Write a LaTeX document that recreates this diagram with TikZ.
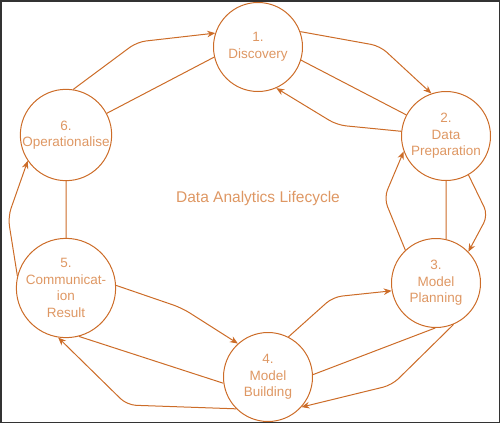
\documentclass[tikz,border=0pt]{standalone}
\usepackage{fontspec}
\setmainfont{Liberation Sans}
\usepackage{xcolor}
\usetikzlibrary{arrows.meta}
\definecolor{lcline}{HTML}{CC6C28}
\definecolor{lctext}{HTML}{DE9763}

\begin{document}
\begin{tikzpicture}[x=1pt,y=-1pt,
  stage/.style = {draw=lcline,circle,line width=1pt,minimum size=89pt,
        inner sep=0pt,align=center,text=lctext,
        font=\fontsize{13.5}{16.5}\selectfont},
  link/.style = {draw=lcline,line width=1pt}]
 \useasboundingbox (0,0) rectangle (500,423);
 \draw[black!80,line width=1.5pt] (0.75,0.75) rectangle (499.25,422.25);

 \node[stage] (c1) at(258,47)  {1.\\ Discovery};
 \node[stage] (c2) at(446,136) {2.\\ Data\\ Preparation};
 \node[stage] (c3) at(436,283) {3.\\ Model\\ Planning};
 \node[stage] (c4) at(268,377) {4.\\ Model\\ Building};
 \node[stage] (c5) at(66,288)  {5.\\ Communicat-\\ ion\\ Result};
 \node[stage] (c6) at(66,135)  {6.\\ Operationalise};

 \node[text=lctext,font=\fontsize{15.5}{18}\selectfont] (title) at(258,198)
   {Data Analytics Lifecycle};

 % plain links
 \path[link] (c6.28) -- (c1.193)
       (c1.-17) -- (c2.152)
       (c2.south) -- (c3.77)
       (c3.-91) -- (c4.3)
       (c4.188) -- (c5.-75)
       (c5.north) -- (c6.south);

 \begin{scope}[link,rounded corners=9pt,-{Stealth[length=8pt,width=6.5pt]}]
  \draw (c6.81) -- (137,42) -- (c1.162);
  \draw (c1.20) -- (380,46) -- (c2.109);
  \draw (c2.174) -- (337,125) -- (c1.-66);
  \draw (c3.133) -- (384,198) -- (c2.200);
  \draw (c2.-60) -- (488,215) -- (c3.44);
  \draw (c4.63) -- (333,297) -- (c3.190);
  \draw (c3.-67) -- (392,385) -- (c4.-42);
  \draw (c5.3) -- (182,308) -- (c4.132);
  \draw (c4.225) -- (127,405) -- (c5.-99);
  \draw (c5.166) -- (8,217) -- (c6.214);
 \end{scope}
\end{tikzpicture}
\end{document}
